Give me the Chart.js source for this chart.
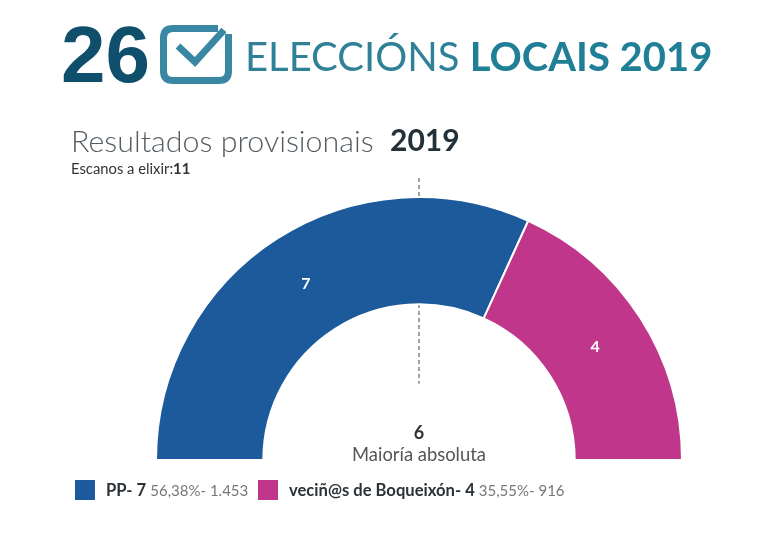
<!DOCTYPE html>
<html>
<head>
<meta charset="utf-8">
<script src="https://cdn.jsdelivr.net/npm/chart.js@4"></script>
<style>
  html, body { margin: 0; padding: 0; background: #fff; }
  body { width: 768px; height: 544px; position: relative; overflow: hidden; font-family: Lato, sans-serif; }
  canvas { position: absolute; left: 0; top: 0; }
  .txt { position: absolute; white-space: nowrap; line-height: 1; }
  .legend-box { position: absolute; top: 480px; width: 20px; height: 20px; }
</style>
</head>
<body>
<canvas id="seats" width="768" height="544"></canvas>

<div class="txt" style="left:61px;top:9px;font:bold 80px 'Liberation Sans';color:#0f4f6c">26</div>
<svg style="position:absolute;left:160px;top:25px" width="72" height="60" viewBox="0 0 72 60">
  <path d="M58 3.5H13Q3.5 3.5 3.5 13V46Q3.5 55.5 13 55.5H59Q68.5 55.5 68.5 46V9" fill="none" stroke="#3a87a3" stroke-width="7"/>
  <path d="M18 21L35 37L64 5" fill="none" stroke="#3a87a3" stroke-width="7"/>
</svg>
<div class="txt" style="left:245px;top:36px;font-size:40px;color:#2f8198">ELECCIÓNS <b style="color:#1f7f96">LOCAIS 2019</b></div>

<div class="txt" style="left:71px;top:125px;font-size:30.4px;font-weight:300;color:#555c61">Resultados provisionais</div>
<div class="txt" style="left:390px;top:124px;font-size:30px;font-weight:700;color:#22303a">2019</div>
<div class="txt" style="left:71px;top:161px;font-size:14.8px;color:#333">Escanos a elixir:<b>11</b></div>

<div class="txt" style="left:319px;top:423px;width:200px;text-align:center;font-size:18px;font-weight:700;color:#333">6</div>
<div class="txt" style="left:319px;top:445px;width:200px;text-align:center;font-size:18.4px;color:#555">Maioría absoluta</div>

<div id="legend"></div>

<script>
// Seat results
const parties = ["PP", "veciñ@s de Boqueixón"];
const seats = [7, 4];
const percents = ["56,38%", "35,55%"];
const votes = ["1.453", "916"];
const colors = ["#1c5a9c", "#c0368a"];
const legendLeft = [75, 258];
const legendText = [106, 289];

// ----------------------------------
// Legend
// ----------------------------------
const legend = document.getElementById("legend");
parties.forEach((p, i) => {
  legend.innerHTML +=
    `<div class="legend-box" style="left:${legendLeft[i]}px;background:${colors[i]}"></div>` +
    `<div class="txt" style="left:${legendText[i]}px;top:482px;font-size:16.6px;font-weight:700;color:#2a3238">${p}- ${seats[i]} ` +
    `<span style="font-size:15px;font-weight:400;color:#777">${percents[i]}- ${votes[i]}</span></div>`;
});

// ----------------------------------
// Seat numbers and majority line
// ----------------------------------
const overlay = {
  id: "overlay",
  // the dashed line sits behind the arcs
  beforeDatasetsDraw(chart) {
    const ctx = chart.ctx;
    const arc = chart.getDatasetMeta(0).data[0];
    ctx.save();
    ctx.strokeStyle = "#444";
    ctx.lineWidth = 1;
    ctx.setLineDash([4, 3]);
    ctx.beginPath();
    ctx.moveTo(arc.x, arc.y - arc.outerRadius - 19);
    ctx.lineTo(arc.x, arc.y - arc.innerRadius * 0.49);
    ctx.stroke();
    ctx.restore();
  },
  afterDatasetsDraw(chart) {
    const ctx = chart.ctx;
    ctx.save();
    ctx.fillStyle = "#fff";
    ctx.font = "bold 16px Lato";
    ctx.textAlign = "center";
    ctx.textBaseline = "middle";
    chart.getDatasetMeta(0).data.forEach((a, i) => {
      const pos = a.getCenterPoint();
      ctx.fillText(seats[i], pos.x, pos.y);
    });
    ctx.restore();
  }
};

new Chart(document.getElementById("seats"), {
  type: "doughnut",
  data: {
    labels: parties,
    datasets: [{
      data: seats,
      backgroundColor: colors,
      borderColor: "#fff",
      borderWidth: 2
    }]
  },
  options: {
    responsive: false,
    animation: false,
    rotation: -90,
    circumference: 180,
    cutout: "59.2%",
    layout: { padding: { left: 155, right: 85, top: 196, bottom: 83 } },
    plugins: {
      legend: { display: false },
      tooltip: { enabled: false }
    }
  },
  plugins: [overlay]
});
</script>
</body>
</html>
